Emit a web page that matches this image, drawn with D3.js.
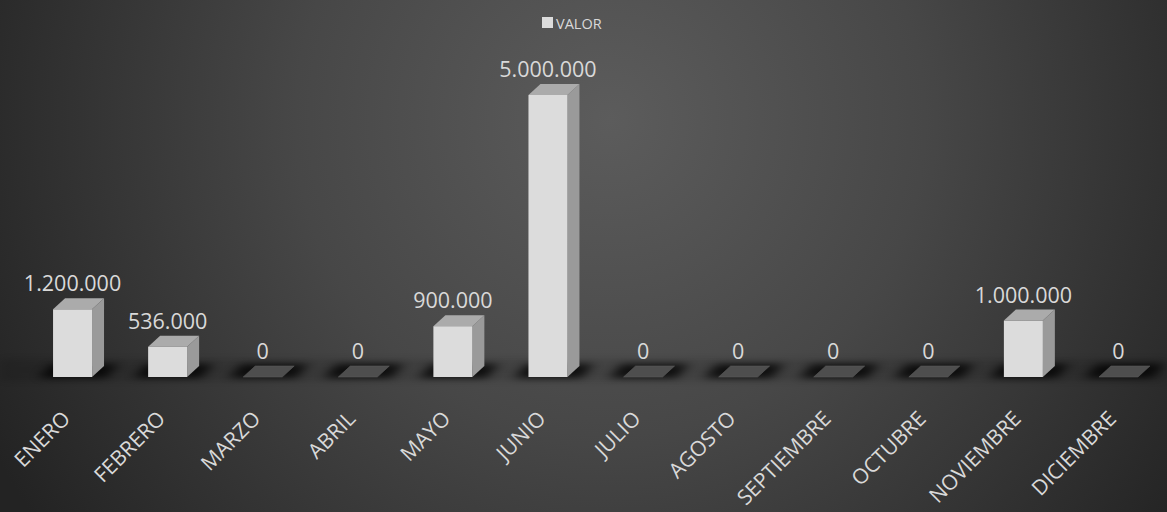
<!DOCTYPE html>
<html><head><meta charset="utf-8">
<script src="https://cdn.jsdelivr.net/npm/d3@7"></script>
<style>body{margin:0;background:#333;}svg{display:block;}</style>
</head><body>
<script>
const categories = ["ENERO","FEBRERO","MARZO","ABRIL","MAYO","JUNIO","JULIO","AGOSTO","SEPTIEMBRE","OCTUBRE","NOVIEMBRE","DICIEMBRE"];
const values = [1200000, 536000, 0, 0, 900000, 5000000, 0, 0, 0, 0, 1000000, 0];
const seriesName = "VALOR";

const W = 1167, H = 512;
const svg = d3.select("body").append("svg").attr("width", W).attr("height", H)
  .style("font-family", "'Open Sans', sans-serif");
const defs = svg.append("defs");
const bg = defs.append("radialGradient").attr("id","bg")
  .attr("gradientUnits","userSpaceOnUse").attr("cx",610).attr("cy",120).attr("r",700);
bg.append("stop").attr("offset","0%").attr("stop-color","#5c5c5c");
bg.append("stop").attr("offset","45%").attr("stop-color","#474747");
bg.append("stop").attr("offset","100%").attr("stop-color","#232323");
const blur = defs.append("filter").attr("id","blur").attr("x","-50%").attr("y","-100%").attr("width","200%").attr("height","300%");
blur.append("feGaussianBlur").attr("stdDeviation","6 3");

svg.append("rect").attr("width",W).attr("height",H).attr("fill","url(#bg)");

const floorY = 377, dx = 12, dy = 11;
const x = d3.scaleBand().domain(categories).range([25, 1166]).paddingInner(0.59).paddingOuter(0.295);
const y = d3.scaleLinear().domain([0, 5000000]).range([floorY, 95]);

// floor band
svg.append("rect").attr("x",0).attr("width",W).attr("y",floorY-18).attr("height",22)
  .attr("fill","#000").attr("opacity",0.12).attr("filter","url(#blur)");
// floor shadows
svg.append("g").selectAll("path").data(categories).join("path")
  .attr("d", d => {
    const x0 = x(d) - 14, x1 = x(d) + x.bandwidth() + 14;
    return `M${x0},${floorY+1}L${x1},${floorY+1}L${x1+dx},${floorY-dy-2}L${x0+dx},${floorY-dy-2}Z`;
  })
  .attr("fill", "#000").attr("opacity", 0.75).attr("filter","url(#blur)");

const g = svg.append("g");
categories.forEach((c, i) => {
  const v = values[i];
  const x0 = x(c), w = x.bandwidth(), yt = y(v);
  const bar = g.append("g");
  if (v === 0) {
    bar.append("path").attr("d", `M${x0},${floorY}L${x0+w},${floorY}L${x0+w+dx},${floorY-dy}L${x0+dx},${floorY-dy}Z`)
      .attr("fill","#4e4e4e").attr("stroke","#5a5a5a").attr("stroke-width",0.6);
  } else {
    bar.append("path").attr("d", `M${x0+w},${floorY}L${x0+w+dx},${floorY-dy}L${x0+w+dx},${yt-dy}L${x0+w},${yt}Z`).attr("fill","#9a9a9a");
    bar.append("path").attr("d", `M${x0},${yt}L${x0+w},${yt}L${x0+w+dx},${yt-dy}L${x0+dx},${yt-dy}Z`).attr("fill","#ababab");
    bar.append("rect").attr("x", x0).attr("y", yt).attr("width", w).attr("height", floorY - yt).attr("fill","#dcdcdc");
  }
  g.append("text").attr("x", x0 + w/2).attr("y", yt - dy - 7)
    .attr("text-anchor","middle").attr("fill","#d9d9d9").attr("font-size", 21.5)
    .text(d3.format(",")(v).replace(/,/g, "."));
});

// x labels
svg.append("g").selectAll("text").data(categories).join("text")
  .attr("transform", d => `translate(${x(d) + x.bandwidth()/2 - 1},${420}) rotate(-45)`)
  .attr("text-anchor","end").attr("fill","#d9d9d9").attr("font-size", 21)
  .text(d => d);

// legend
const lg = svg.append("g");
lg.append("rect").attr("x",542).attr("y",17).attr("width",11).attr("height",11).attr("fill","#dcdcdc");
lg.append("text").attr("x",556).attr("y",28.5).attr("fill","#d9d9d9").attr("font-size",14.5).text(seriesName);
</script>
</body></html>
